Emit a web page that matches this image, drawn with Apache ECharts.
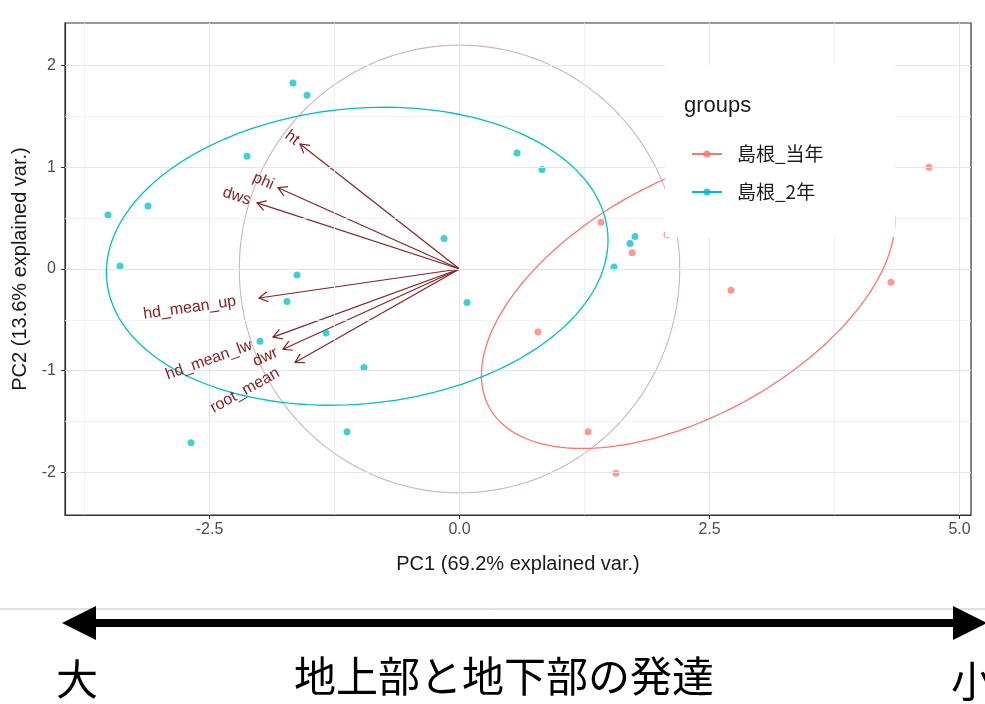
<!DOCTYPE html>
<html>
<head>
<meta charset="utf-8">
<script src="https://cdn.jsdelivr.net/npm/echarts@6/dist/echarts.min.js"></script>
<style>
html, body { margin: 0; padding: 0; background: #fff; }
#chart { width: 985px; height: 704px; }
</style>
</head>
<body>
<div id="chart"></div>
<script>
// Group names
const groupNames = ['島根_当年', '島根_2年'];

// PC1 / PC2 scores, group 島根_当年
const touX = [1.415, 1.725, 4.695, 0.785, 2.715, 4.315, 1.285, 1.565, 2.075];
const touY = [0.46, 0.16, 1.00, -0.62, -0.21, -0.13, -1.60, -2.01, 0.34];

// PC1 / PC2 scores, group 島根_2年
const niX = [-1.665, -1.525, -2.125, -3.515, -3.115, -0.155, -3.395, -1.625, -1.725, 0.075,
             -1.335, -1.995, -0.955, -1.125, -2.685, 0.575, 0.825, 1.755, 1.705, 1.545];
const niY = [1.83, 1.71, 1.11, 0.53, 0.62, 0.30, 0.03, -0.06, -0.32, -0.33,
             -0.63, -0.71, -0.97, -1.60, -1.71, 1.14, 0.98, 0.32, 0.25, 0.02];

// Variable loadings (arrow tips)
const varNames = ['ht', 'phi', 'dws', 'hd_mean_up', 'hd_mean_lw', 'dwr', 'root_mean'];
const loadX = [-1.595, -1.815, -2.025, -2.005, -1.865, -1.765, -1.645];
const loadY = [1.23, 0.80, 0.65, -0.285, -0.67, -0.79, -0.92];

// Axis ticks and grid
const xTicks = [-2.5, 0, 2.5, 5];
const yTicks = [-2, -1, 0, 1, 2];
const xMinor = [-3.75, -1.25, 1.25, 3.75];
const yMinor = [-1.5, -0.5, 0.5, 1.5];
const xTitle = 'PC1 (69.2% explained var.)';
const yTitle = 'PC2 (13.6% explained var.)';
const scaleText = ['大', '地上部と地下部の発達', '小'];

// Probabilities used by the ellipse and the correlation circle
const ellipseProb = 0.68;
const circleProb = 0.69;

const COL = ['#F8766D', '#00BFC4'];
const ARROW_COL = '#832424';
const LABEL_FONT_SIZE = 16;
const LABEL_FONT = LABEL_FONT_SIZE + 'px "Liberation Sans", Arial, sans-serif';

function mean(a) { return a.reduce((s, v) => s + v, 0) / a.length; }

// Normal-theory ellipse of a group (mean + chol(cov) * sqrt(qchisq(p, 2)))
function groupEllipse(xs, ys, prob) {
  const n = xs.length, mx = mean(xs), my = mean(ys);
  let sxx = 0, syy = 0, sxy = 0;
  for (let i = 0; i < n; i++) {
    const dx = xs[i] - mx, dy = ys[i] - my;
    sxx += dx * dx; syy += dy * dy; sxy += dx * dy;
  }
  sxx /= n - 1; syy /= n - 1; sxy /= n - 1;
  const ed = Math.sqrt(-2 * Math.log(1 - prob));
  const r11 = Math.sqrt(sxx), r12 = sxy / r11, r22 = Math.sqrt(syy - r12 * r12);
  const pts = [];
  const N = 160;
  for (let k = 0; k <= N; k++) {
    const t = -Math.PI + 2 * Math.PI * k / N;
    const c = Math.cos(t), s = Math.sin(t);
    pts.push([mx + ed * c * r11, my + ed * (c * r12 + s * r22)]);
  }
  return pts;
}

// Correlation circle scaled from the scores
function scoreCircle(prob) {
  const ax = touX.concat(niX), ay = touY.concat(niY);
  const mx2 = mean(ax.map(v => v * v)), my2 = mean(ay.map(v => v * v));
  const r = Math.sqrt(-2 * Math.log(1 - prob)) * Math.pow(mx2 * my2, 0.25);
  const pts = [];
  const N = 200;
  for (let k = 0; k <= N; k++) {
    const t = -Math.PI + 2 * Math.PI * k / N;
    pts.push([r * Math.cos(t), r * Math.sin(t)]);
  }
  return pts;
}

const measureCtx = document.createElement('canvas').getContext('2d');
function textWidth(t) { measureCtx.font = LABEL_FONT; return measureCtx.measureText(t).width; }

function gridLineItems() {
  const items = [];
  xMinor.forEach(v => items.push({ xAxis: v, lineStyle: { color: '#efefef', width: 0.8, type: 'solid' } }));
  yMinor.forEach(v => items.push({ yAxis: v, lineStyle: { color: '#efefef', width: 0.8, type: 'solid' } }));
  xTicks.forEach(v => items.push({ xAxis: v, lineStyle: { color: '#e6e6e6', width: 1.2, type: 'solid' } }));
  yTicks.forEach(v => items.push({ yAxis: v, lineStyle: { color: '#e6e6e6', width: 1.2, type: 'solid' } }));
  return items;
}

function arrowItem(params, api) {
  const x = api.value(0), y = api.value(1);
  const o = api.coord([0, 0]);
  const t = api.coord([x, y]);
  const ang = Math.atan2(t[1] - o[1], t[0] - o[0]);
  const ah = 10, aw = Math.PI / 6;
  const p1 = [t[0] - ah * Math.cos(ang - aw), t[1] - ah * Math.sin(ang - aw)];
  const p2 = [t[0] - ah * Math.cos(ang + aw), t[1] - ah * Math.sin(ang + aw)];
  return {
    type: 'group',
    children: [
      { type: 'line', shape: { x1: o[0], y1: o[1], x2: t[0], y2: t[1] },
        style: { stroke: ARROW_COL, lineWidth: 1.2 } },
      { type: 'polyline', shape: { points: [p1, t, p2] },
        style: { stroke: ARROW_COL, lineWidth: 1.2, fill: null } }
    ]
  };
}

function labelItem(params, api) {
  const i = params.dataIndex;
  const x = api.value(0), y = api.value(1);
  const t = api.coord([x, y]);
  const name = varNames[i];
  const w = textWidth(name);
  const hjust = (1 - 1.5 * Math.sign(x)) / 2;
  return {
    type: 'text',
    x: t[0], y: t[1],
    rotation: Math.atan(y / x),
    style: {
      text: name, x: -hjust * w, y: 0,
      align: 'left', verticalAlign: 'middle',
      fill: ARROW_COL, font: LABEL_FONT
    }
  };
}

const chart = echarts.init(document.getElementById('chart'), null, { renderer: 'canvas' });

const axisFont = '"Liberation Sans", Arial, sans-serif';
const cjkFont = '"Noto Sans CJK JP", sans-serif';

chart.setOption({
  animation: false,
  backgroundColor: '#fff',
  grid: { left: 65, top: 23, right: 14, bottom: 189, show: true, borderColor: '#333', borderWidth: 1.2, backgroundColor: '#fff' },
  xAxis: {
    type: 'value', min: -3.945, max: 5.115,
    splitLine: { show: false },
    axisLine: { show: true, onZero: false, lineStyle: { color: '#333', width: 1.2 } },
    axisTick: { show: true, customValues: xTicks, length: 4, lineStyle: { color: '#333' } },
    axisLabel: { customValues: xTicks, formatter: v => v.toFixed(1), color: '#4d4d4d', fontSize: 16, fontFamily: axisFont, margin: 7 },
    name: xTitle, nameLocation: 'middle', nameGap: 39,
    nameTextStyle: { fontSize: 20, color: '#1a1a1a', fontFamily: axisFont }
  },
  yAxis: {
    type: 'value', min: -2.42, max: 2.42,
    splitLine: { show: false },
    axisLine: { show: true, onZero: false, lineStyle: { color: '#333', width: 1.2 } },
    axisTick: { show: true, customValues: yTicks, length: 4, lineStyle: { color: '#333' } },
    axisLabel: { customValues: yTicks, formatter: v => String(v), color: '#4d4d4d', fontSize: 16, fontFamily: axisFont, margin: 9 },
    name: yTitle, nameLocation: 'middle', nameGap: 31, nameRotate: 90,
    nameTextStyle: { fontSize: 20, color: '#1a1a1a', fontFamily: axisFont }
  },
  legend: {
    data: groupNames, orient: 'vertical', left: 686, top: 137,
    itemWidth: 30, itemHeight: 9, itemGap: 14, z: 20,
    textStyle: { fontSize: 19, color: '#1a1a1a', fontFamily: cjkFont, lineHeight: 24, padding: [0, 0, 0, 10] }
  },
  graphic: [
    { type: 'rect', shape: { x: 665, y: 65, width: 230, height: 172 }, style: { fill: '#fff' }, z: 10, silent: true },
    { type: 'text', x: 684, y: 106, z: 11, style: { text: 'groups', font: '22px ' + axisFont, fill: '#1a1a1a', verticalAlign: 'middle' } },
    { type: 'line', shape: { x1: 0, y1: 609, x2: 985, y2: 609 }, style: { stroke: '#c4c4c4', lineWidth: 1 } },
    { type: 'line', shape: { x1: 90, y1: 623, x2: 958, y2: 623 }, style: { stroke: '#000', lineWidth: 8 } },
    { type: 'polygon', shape: { points: [[62, 623], [96, 606], [96, 640]] }, style: { fill: '#000' } },
    { type: 'polygon', shape: { points: [[987, 623], [953, 606], [953, 640]] }, style: { fill: '#000' } },
    { type: 'text', x: 56, y: 679, style: { text: scaleText[0], font: '42px ' + cjkFont, fill: '#000', verticalAlign: 'middle' } },
    { type: 'text', x: 504, y: 676, style: { text: scaleText[1], font: '42px ' + cjkFont, fill: '#000', align: 'center', verticalAlign: 'middle' } },
    { type: 'text', x: 951, y: 681, style: { text: scaleText[2], font: '42px ' + cjkFont, fill: '#000', verticalAlign: 'middle' } }
  ],
  series: [
    {
      type: 'line', data: [], silent: true, z: 1,
      markLine: { silent: true, symbol: ['none', 'none'], label: { show: false }, data: gridLineItems() }
    },
    {
      type: 'line', data: scoreCircle(circleProb), showSymbol: false, symbol: 'none', silent: true, z: 2,
      lineStyle: { color: '#c9b6ba', width: 1.1 }
    },
    { type: 'custom', data: loadX.map((v, i) => [v, loadY[i]]), renderItem: arrowItem, silent: true, z: 3 },
    {
      name: groupNames[0], type: 'line', data: groupEllipse(touX, touY, ellipseProb),
      showSymbol: false, symbol: 'circle', z: 5, silent: true,
      lineStyle: { color: COL[0], width: 1.3 }, itemStyle: { color: COL[0], opacity: 0.8 }
    },
    {
      name: groupNames[1], type: 'line', data: groupEllipse(niX, niY, ellipseProb),
      showSymbol: false, symbol: 'circle', z: 5, silent: true,
      lineStyle: { color: COL[1], width: 1.3 }, itemStyle: { color: COL[1], opacity: 0.8 }
    },
    {
      name: groupNames[0], type: 'scatter', data: touX.map((v, i) => [v, touY[i]]),
      symbolSize: 7, z: 4, itemStyle: { color: COL[0], opacity: 0.75 }
    },
    {
      name: groupNames[1], type: 'scatter', data: niX.map((v, i) => [v, niY[i]]),
      symbolSize: 7, z: 4, itemStyle: { color: COL[1], opacity: 0.75 }
    },
    { type: 'custom', data: loadX.map((v, i) => [v, loadY[i]]), renderItem: labelItem, silent: true, z: 6 }
  ]
});
</script>
</body>
</html>
